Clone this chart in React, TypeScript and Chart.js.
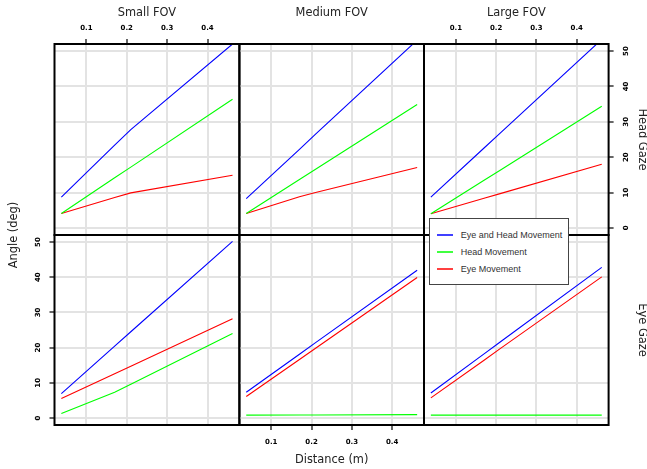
import React, { useEffect, useRef } from 'react';
import { Chart, registerables } from 'chart.js';

Chart.register(...registerables);

// ---- data ----
const distances = [0.038, 0.17, 0.21, 0.462];
const seriesNames = ['Eye and Head Movement', 'Head Movement', 'Eye Movement'];
const seriesColors = ['#0000ff', '#00ff00', '#ff0000'];
const fovLabels = ['Small FOV', 'Medium FOV', 'Large FOV'];
const gazeLabels = ['Head Gaze', 'Eye Gaze'];
const xTickValues = [0.1, 0.2, 0.3, 0.4];
const yTickValues = [0, 10, 20, 30, 40, 50];
const xAxisTitle = 'Distance (m)';
const yAxisTitle = 'Angle (deg)';

// Head Gaze row
const smallHeadEyeHead = [8.7, 23.4, 27.8, 52.0];
const smallHeadHead = [4.1, 14.2, 17.2, 36.4];
const smallHeadEye = [4.1, 8.6, 9.9, 14.9];
const mediumHeadEyeHead = [8.3, 22.2, 26.5, 53.1];
const mediumHeadHead = [4.1, 13.7, 16.6, 34.9];
const mediumHeadEye = [4.1, 8.8, 10.0, 17.1];
const largeHeadEyeHead = [8.7, 22.6, 26.8, 53.3];
const largeHeadHead = [4.0, 13.5, 16.3, 34.4];
const largeHeadEye = [4.0, 8.4, 9.7, 18.0];
// Eye Gaze row
const smallEyeEyeHead = [6.9, 20.4, 24.5, 50.2];
const smallEyeHead = [1.3, 7.3, 9.6, 24.0];
const smallEyeEye = [5.5, 12.6, 14.7, 28.2];
const mediumEyeEyeHead = [7.3, 18.1, 21.4, 42.0];
const mediumEyeHead = [0.8, 0.85, 0.85, 0.95];
const mediumEyeEye = [6.1, 16.6, 19.8, 39.9];
const largeEyeEyeHead = [7.1, 18.2, 21.6, 42.8];
const largeEyeHead = [0.8, 0.8, 0.8, 0.8];
const largeEyeEye = [5.7, 16.4, 19.7, 40.1];

const panelData = [
  [
    [smallHeadEyeHead, smallHeadHead, smallHeadEye],
    [mediumHeadEyeHead, mediumHeadHead, mediumHeadEye],
    [largeHeadEyeHead, largeHeadHead, largeHeadEye],
  ],
  [
    [smallEyeEyeHead, smallEyeHead, smallEyeEye],
    [mediumEyeEyeHead, mediumEyeHead, mediumEyeEye],
    [largeEyeEyeHead, largeEyeHead, largeEyeEye],
  ],
];

// ---- layout ----
const W = 647;
const H = 469;
const colEdges = [54.5, 239.4, 424, 608.6];
const rowEdges = [44, 235, 425];
const X_MIN = 0.021;
const X_MAX = 0.479;
const Y_MIN = -2;
const Y_MAX = 52;

const tickFont = { family: 'DejaVu Sans', size: 7, weight: 'bold' as const };
const titleFont = { family: 'DejaVu Sans', size: 11.4 };
const titleColor = '#222';
const gridColor = '#e3e3e3';

const boxPlugin = {
  id: 'panelBox',
  afterDraw(chart: any) {
    const { ctx, chartArea: a } = chart;
    ctx.save();
    ctx.strokeStyle = '#000';
    ctx.lineWidth = 2;
    ctx.strokeRect(a.left, a.top, a.right - a.left, a.bottom - a.top);
    ctx.restore();
  },
};

function buildConfig(row: number, col: number) {
  const left = colEdges[col];
  const right = colEdges[col + 1];
  const top = rowEdges[row];
  const bottom = rowEdges[row + 1];

  const xPos = row === 0 ? 'top' : 'bottom';
  const xTicksShown = row === 0 ? col !== 1 : col === 1;
  const xTitle = row === 0 ? fovLabels[col] : col === 1 ? xAxisTitle : '';
  const xSize = row === 0 ? 37.4 : col === 1 ? 41.9 : 0;

  const yPos = row === 1 && col === 0 ? 'left' : 'right';
  const yTicksShown = row === 0 ? col === 2 : col === 0;
  const yTitle = col === 2 ? gazeLabels[row] : '';
  const ySize = col === 2 ? 38.4 : row === 1 && col === 0 ? 30 : 0;

  const padding = {
    left: yPos === 'left' ? left - ySize : left,
    right: yPos === 'right' ? W - right - ySize : W - right,
    top: xPos === 'top' ? top - xSize : top,
    bottom: xPos === 'bottom' ? H - bottom - xSize : H - bottom,
  };

  const series = panelData[row][col];
  const datasets = series.map((vals, i) => ({
    label: seriesNames[i],
    data: distances.map((d, j) => ({ x: d, y: vals[j] })),
    borderColor: seriesColors[i],
    backgroundColor: seriesColors[i],
    borderWidth: 1.1,
    pointRadius: 0,
    fill: false,
    tension: 0,
  }));

  return {
    type: 'line' as const,
    data: { datasets },
    plugins: [boxPlugin],
    options: {
      responsive: false,
      maintainAspectRatio: false,
      animation: false as const,
      events: [],
      layout: { padding },
      plugins: {
        legend: { display: false },
        tooltip: { enabled: false },
      },
      scales: {
        x: {
          type: 'linear' as const,
          position: xPos,
          min: X_MIN,
          max: X_MAX,
          afterBuildTicks: (s: any) => {
            s.ticks = xTickValues.map((v) => ({ value: v }));
          },
          afterFit: (s: any) => {
            s.height = xSize;
          },
          grid: {
            color: gridColor,
            lineWidth: 2,
            drawTicks: xTicksShown,
            tickLength: 5,
            tickColor: '#000',
            tickWidth: 1.2,
          },
          border: { display: false },
          ticks: {
            display: xTicksShown,
            font: tickFont,
            color: '#000',
            padding: xPos === 'top' ? 6.5 : 7.5,
            minRotation: 0,
            maxRotation: 0,
            autoSkip: false,
            callback: (v: any) => Number(v).toFixed(1),
          },
          title: {
            display: !!xTitle,
            text: xTitle,
            font: titleFont,
            color: titleColor,
            padding: 0,
          },
        },
        y: {
          type: 'linear' as const,
          position: yPos,
          min: Y_MIN,
          max: Y_MAX,
          afterBuildTicks: (s: any) => {
            s.ticks = yTickValues.map((v) => ({ value: v }));
          },
          afterFit: (s: any) => {
            s.width = ySize;
          },
          grid: {
            color: gridColor,
            lineWidth: 2,
            drawTicks: yTicksShown,
            tickLength: 5,
            tickColor: '#000',
            tickWidth: 1.2,
          },
          border: { display: false },
          ticks: {
            display: yTicksShown,
            font: tickFont,
            color: '#000',
            padding: yPos === 'left' ? 6.3 : 7.7,
            minRotation: 90,
            maxRotation: 90,
            crossAlign: 'center' as const,
            autoSkip: false,
            callback: (v: any) => String(v),
          },
          title: {
            display: !!yTitle,
            text: yTitle,
            font: { ...titleFont, lineHeight: 0.9 },
            color: titleColor,
            padding: 0,
          },
        },
      },
    },
  };
}

export default function App() {
  const refs = useRef<(HTMLCanvasElement | null)[]>([]);

  useEffect(() => {
    const charts: Chart[] = [];
    for (let row = 0; row < 2; row++) {
      for (let col = 0; col < 3; col++) {
        const cv = refs.current[row * 3 + col];
        if (!cv) continue;
        charts.push(new Chart(cv, buildConfig(row, col) as any));
      }
    }
    return () => charts.forEach((c) => c.destroy());
  }, []);

  const legendTop = 218;
  const legendLeft = 429;

  return (
    <div style={{ position: 'absolute', left: 0, top: 0, width: W, height: H, background: '#fff', overflow: 'hidden' }}>
      {[0, 1, 2, 3, 4, 5].map((i) => (
        <canvas
          key={i}
          ref={(el) => {
            refs.current[i] = el;
          }}
          width={W}
          height={H}
          style={{ position: 'absolute', left: 0, top: 0, width: W, height: H }}
        />
      ))}
      <div
        style={{
          position: 'absolute',
          left: 12.8 - 60,
          top: 234.5 - 7,
          width: 120,
          height: 14,
          lineHeight: '14px',
          textAlign: 'center',
          transform: 'rotate(-90deg)',
          fontFamily: 'DejaVu Sans',
          fontSize: 11.4,
          color: titleColor,
          whiteSpace: 'nowrap',
        }}
      >
        {yAxisTitle}
      </div>
      <div
        style={{
          position: 'absolute',
          left: legendLeft,
          top: legendTop,
          width: 140,
          height: 67,
          boxSizing: 'border-box',
          border: '1px solid #444',
          background: '#fff',
        }}
      >
        {seriesNames.map((name, i) => {
          const cy = 235.3 + 16.9 * i - legendTop - 1;
          return (
            <React.Fragment key={name}>
              <div
                style={{
                  position: 'absolute',
                  left: 437.3 - legendLeft - 1,
                  top: cy - 1,
                  width: 16,
                  height: 2,
                  background: seriesColors[i],
                  opacity: 0.75,
                }}
              />
              <div
                style={{
                  position: 'absolute',
                  left: 460.7 - legendLeft - 1,
                  top: cy - 6,
                  height: 12,
                  lineHeight: '12px',
                  fontFamily: 'Liberation Sans',
                  fontSize: 9,
                  color: '#333',
                  whiteSpace: 'nowrap',
                }}
              >
                {name}
              </div>
            </React.Fragment>
          );
        })}
      </div>
    </div>
  );
}
